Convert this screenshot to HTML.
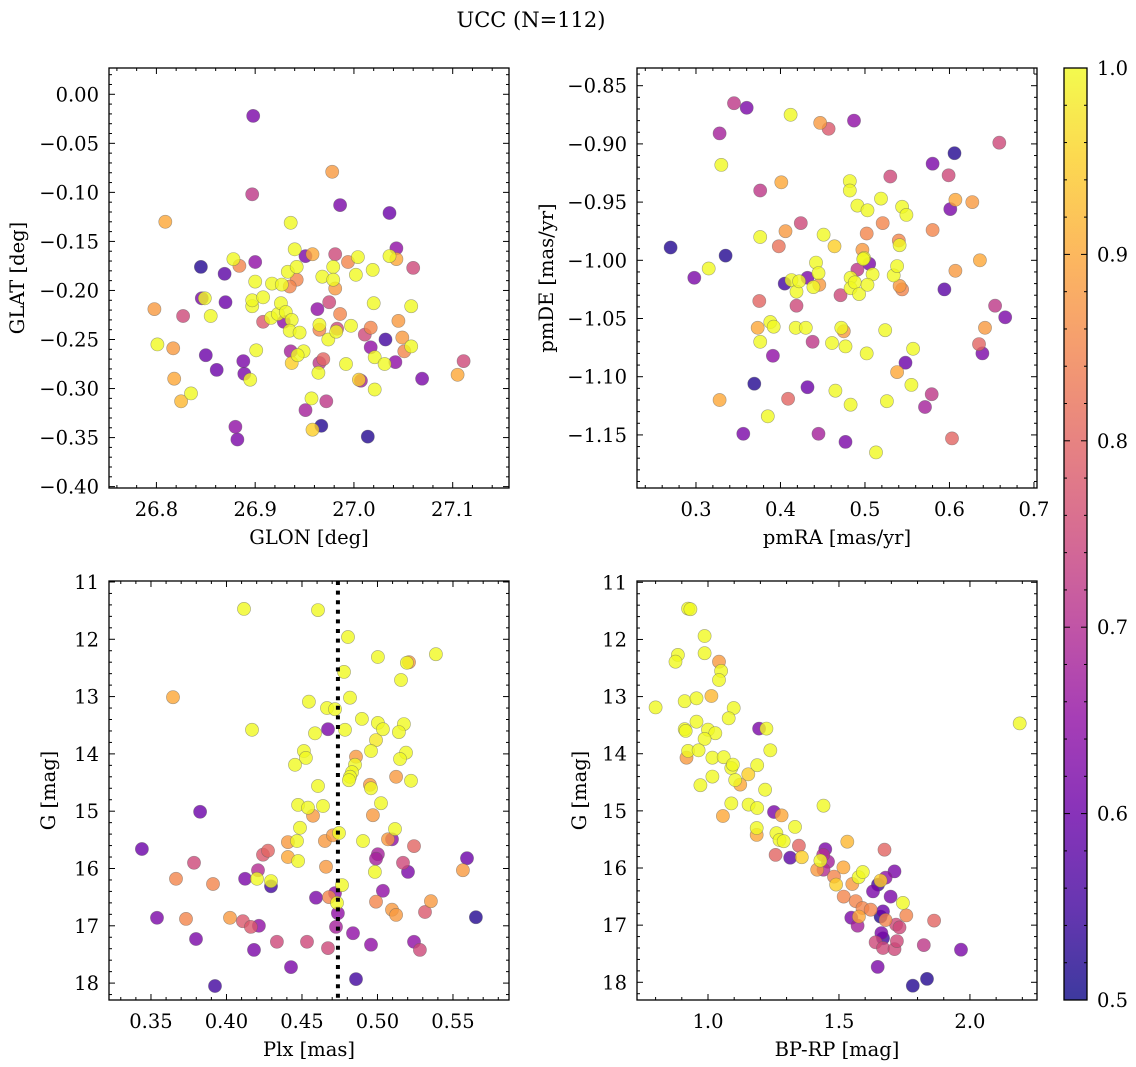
<!DOCTYPE html>
<html><head><meta charset="utf-8"><style>
html,body{margin:0;padding:0;background:#fff;}
svg{display:block;font-family:"DejaVu Serif","Liberation Serif",serif;}
</style></head><body>
<svg id="fig" width="1136" height="1067" viewBox="0 0 1136 1067" xmlns="http://www.w3.org/2000/svg">
<text x="531" y="27" font-size="21" text-anchor="middle">UCC (N=112)</text>
</svg>
<script>
// ---- Data (value arrays) ----
const glonGlat = [[26.898,-0.022,.62],[26.978,-0.079,.88],[26.897,-0.102,.72],[26.986,-0.113,.62],[27.036,-0.121,.6],[26.809,-0.130,.9],[26.936,-0.131,1],[26.940,-0.158,1],[27.043,-0.157,.65],[26.845,-0.176,.52],[26.878,-0.168,1],[26.884,-0.175,.85],[26.869,-0.183,.58],[26.900,-0.171,.65],[26.900,-0.191,1],[26.917,-0.193,1],[26.927,-0.194,1],[26.933,-0.181,1],[26.942,-0.176,1],[26.942,-0.189,.85],[26.935,-0.196,.85],[26.951,-0.165,.62],[26.958,-0.163,.9],[26.968,-0.186,1],[26.979,-0.176,1],[26.979,-0.189,1],[26.981,-0.198,.88],[26.981,-0.163,.75],[26.994,-0.171,.85],[27.004,-0.166,1],[27.002,-0.184,1],[27.019,-0.179,1],[27.036,-0.165,1],[27.043,-0.168,.9],[27.060,-0.177,.75],[26.798,-0.219,.88],[26.846,-0.208,.62],[26.849,-0.208,1],[26.870,-0.212,.6],[26.827,-0.226,.75],[26.855,-0.226,1],[26.897,-0.216,1],[26.897,-0.210,1],[26.908,-0.207,1],[26.908,-0.232,.78],[26.916,-0.228,1],[26.923,-0.224,1],[26.926,-0.213,1],[26.929,-0.232,.65],[26.931,-0.222,1],[26.937,-0.230,1],[26.935,-0.241,1],[26.945,-0.243,1],[26.963,-0.219,.65],[26.975,-0.212,.75],[26.965,-0.235,1],[26.965,-0.240,.85],[26.974,-0.250,1],[26.986,-0.224,.85],[26.983,-0.239,.75],[26.982,-0.242,1],[26.997,-0.236,1],[27.017,-0.238,.85],[27.020,-0.213,1],[27.011,-0.245,.75],[27.032,-0.250,.55],[27.045,-0.231,.88],[27.049,-0.248,.88],[27.058,-0.216,1],[27.058,-0.257,1],[27.051,-0.262,.85],[26.801,-0.255,1],[26.817,-0.259,.88],[26.850,-0.266,.6],[26.861,-0.281,.6],[26.888,-0.272,.62],[26.889,-0.285,.62],[26.895,-0.291,1],[26.901,-0.261,1],[26.936,-0.262,.68],[26.949,-0.262,1],[26.943,-0.266,1],[26.937,-0.274,.95],[26.965,-0.274,.72],[26.969,-0.270,.8],[26.964,-0.284,1],[26.992,-0.275,1],[27.017,-0.258,.65],[27.021,-0.268,1],[27.031,-0.275,1],[27.042,-0.273,.65],[27.005,-0.291,.95],[27.007,-0.292,.68],[27.021,-0.301,1],[27.069,-0.290,.62],[27.105,-0.286,.9],[27.111,-0.272,.75],[26.818,-0.290,.9],[26.825,-0.313,.92],[26.835,-0.305,1],[26.957,-0.310,1],[26.972,-0.313,.72],[26.951,-0.322,.68],[26.880,-0.339,.65],[26.882,-0.352,.62],[26.958,-0.342,.95],[26.967,-0.338,.52],[27.014,-0.349,.52]];

const pmraPmde = [[0.270,-0.989,.52],[0.298,-1.015,.62],[0.315,-1.007,1],[0.335,-0.996,.52],[0.328,-0.891,.68],[0.330,-0.918,1],[0.345,-0.865,.72],[0.360,-0.869,.62],[0.328,-1.120,.9],[0.356,-1.149,.62],[0.369,-1.106,.52],[0.376,-0.940,.72],[0.376,-0.980,1],[0.375,-1.035,.8],[0.373,-1.058,.9],[0.376,-1.070,1],[0.391,-1.082,.65],[0.388,-1.053,1],[0.392,-1.057,1],[0.385,-1.134,1],[0.398,-0.988,.82],[0.406,-0.975,.88],[0.401,-0.933,.9],[0.412,-0.875,1],[0.405,-1.020,.55],[0.413,-1.017,1],[0.419,-1.027,1],[0.422,-1.018,1],[0.419,-1.039,.75],[0.418,-1.058,1],[0.409,-1.119,.8],[0.424,-0.968,.75],[0.430,-1.058,1],[0.432,-1.015,.62],[0.432,-1.109,.6],[0.438,-1.070,.72],[0.439,-1.023,1],[0.442,-1.002,1],[0.445,-1.011,1],[0.446,-1.021,.88],[0.445,-1.149,.68],[0.447,-0.882,.88],[0.457,-0.887,.78],[0.451,-0.978,1],[0.464,-0.988,.95],[0.465,-1.112,1],[0.461,-1.071,1],[0.471,-1.030,.75],[0.472,-1.058,1],[0.475,-1.061,.88],[0.477,-1.074,1],[0.477,-1.156,.62],[0.482,-0.932,1],[0.482,-0.940,1],[0.483,-1.124,1],[0.487,-0.880,.65],[0.483,-1.015,1],[0.483,-1.024,1],[0.488,-1.019,1],[0.491,-1.008,.72],[0.493,-1.029,1],[0.491,-0.953,1],[0.497,-0.991,.88],[0.499,-0.998,1],[0.498,-0.999,1],[0.503,-0.957,1],[0.502,-0.977,.85],[0.505,-1.003,.62],[0.509,-1.012,1],[0.503,-1.021,1],[0.502,-1.080,1],[0.513,-1.165,1],[0.519,-0.947,1],[0.521,-0.968,.85],[0.524,-1.060,1],[0.526,-1.121,1],[0.530,-0.928,.75],[0.534,-1.013,1],[0.538,-1.005,1],[0.540,-0.983,.85],[0.541,-0.987,1],[0.541,-1.022,.88],[0.544,-1.025,.85],[0.544,-0.954,1],[0.549,-0.961,1],[0.538,-1.096,.9],[0.548,-1.088,.6],[0.555,-1.107,1],[0.557,-1.076,1],[0.571,-1.126,.68],[0.579,-1.115,.72],[0.580,-0.917,.62],[0.580,-0.974,.85],[0.594,-1.025,.58],[0.599,-0.927,.75],[0.601,-0.956,.62],[0.606,-0.908,.52],[0.607,-0.948,.9],[0.607,-1.009,.88],[0.603,-1.153,.8],[0.627,-0.950,.88],[0.636,-1.000,.9],[0.635,-1.072,.8],[0.639,-1.080,.62],[0.642,-1.058,.88],[0.654,-1.039,.72],[0.666,-1.049,.62],[0.659,-0.899,.75]];

const plxG = [[0.4116,11.47,1],[0.4606,11.49,1],[0.4805,11.96,1],[0.5003,12.31,1],[0.5209,12.40,.88],[0.5195,12.41,1],[0.5387,12.26,1],[0.4778,12.57,1],[0.5156,12.71,1],[0.3646,13.01,.9],[0.4818,13.02,1],[0.4546,13.09,1],[0.4666,13.20,1],[0.4719,13.22,1],[0.4897,13.39,1],[0.5003,13.46,1],[0.5175,13.48,1],[0.5036,13.57,1],[0.5142,13.62,1],[0.4169,13.58,1],[0.4586,13.64,1],[0.4672,13.57,.62],[0.4785,13.58,1],[0.4990,13.76,.98],[0.4513,13.95,1],[0.4526,14.07,1],[0.4454,14.19,1],[0.4957,13.95,1],[0.5189,13.98,1],[0.5149,14.09,1],[0.4858,14.05,.88],[0.4851,14.19,1],[0.4831,14.32,1],[0.4818,14.40,1],[0.5123,14.40,.88],[0.5222,14.47,1],[0.4606,14.56,1],[0.4950,14.54,.88],[0.4957,14.60,1],[0.4811,14.46,1],[0.4474,14.89,1],[0.4540,14.94,1],[0.4573,15.08,.88],[0.4639,14.91,1],[0.5023,14.86,1],[0.3825,15.01,.6],[0.4487,15.29,1],[0.4407,15.54,.88],[0.4467,15.52,1],[0.4652,15.52,.88],[0.4705,15.42,.88],[0.4745,15.38,1],[0.4904,15.52,1],[0.4970,15.07,.88],[0.5116,15.31,1],[0.5070,15.49,.88],[0.5096,15.49,.65],[0.5242,15.61,.8],[0.3440,15.66,.6],[0.3785,15.90,.75],[0.4275,15.69,.8],[0.4242,15.76,.78],[0.4407,15.80,.9],[0.4474,15.87,1],[0.4659,15.97,.88],[0.5003,15.75,.68],[0.4990,15.83,.68],[0.5169,15.90,.75],[0.5202,16.06,.62],[0.4983,16.06,1],[0.5593,15.82,.6],[0.5566,16.03,.88],[0.3666,16.18,.85],[0.3911,16.27,.85],[0.4123,16.18,.62],[0.4209,16.03,.7],[0.4202,16.18,1],[0.4295,16.31,.55],[0.4295,16.22,1],[0.4765,16.29,1],[0.4719,16.43,.65],[0.4679,16.50,.85],[0.4593,16.51,.62],[0.5036,16.39,.65],[0.4990,16.58,.85],[0.5096,16.72,.88],[0.5123,16.81,.88],[0.5354,16.57,.88],[0.5315,16.76,.78],[0.4732,16.60,1],[0.4738,16.78,.65],[0.5652,16.85,.52],[0.3540,16.86,.62],[0.3732,16.88,.85],[0.4023,16.86,.88],[0.4109,16.92,.78],[0.4162,17.02,.78],[0.4215,17.00,.65],[0.3798,17.23,.62],[0.4182,17.42,.62],[0.4334,17.28,.75],[0.4533,17.28,.75],[0.4672,17.39,.75],[0.4725,17.02,.68],[0.4838,17.13,.65],[0.4957,17.33,.65],[0.5242,17.28,.65],[0.5281,17.42,.75],[0.4427,17.72,.62],[0.4858,17.93,.55],[0.3924,18.05,.55]];

const bprpG = [[0.800,13.19,1],[0.924,11.46,1],[0.933,11.47,1],[0.987,11.94,1],[0.987,12.24,1],[0.885,12.27,1],[0.876,12.39,1],[1.042,12.39,.88],[1.050,12.55,1],[1.042,12.71,1],[1.013,12.99,.92],[0.911,13.08,1],[0.956,13.03,1],[1.098,13.20,1],[1.079,13.38,1],[0.956,13.44,1],[0.911,13.57,1],[0.915,13.60,1],[1.000,13.58,1],[1.028,13.64,1],[1.195,13.56,.62],[1.223,13.56,1],[2.190,13.47,1],[0.987,13.74,1],[0.924,13.95,1],[0.918,14.07,.88],[0.964,13.94,1],[1.017,14.07,1],[1.060,14.06,1],[1.238,13.94,1],[1.089,14.25,1],[1.095,14.19,1],[1.188,14.20,1],[1.104,14.46,1],[1.123,14.54,.9],[1.154,14.36,.95],[1.017,14.40,1],[0.971,14.55,1],[1.218,14.63,1],[1.089,14.87,1],[1.155,14.89,1],[1.188,14.95,1],[1.057,15.09,.9],[1.441,14.91,1],[1.252,15.02,.62],[1.281,15.08,.9],[1.186,15.30,1],[1.186,15.42,.9],[1.261,15.39,1],[1.273,15.51,1],[1.289,15.53,1],[1.332,15.28,1],[1.347,15.61,.8],[1.258,15.77,.8],[1.314,15.82,.58],[1.358,15.81,.95],[1.448,15.67,.62],[1.440,15.77,.7],[1.458,15.89,.68],[1.429,15.87,1],[1.417,16.03,.88],[1.441,16.03,.7],[1.481,16.15,.85],[1.489,16.29,.95],[1.517,15.99,.9],[1.532,15.54,.92],[1.551,16.28,.88],[1.575,16.16,1],[1.591,16.07,1],[1.518,16.50,.85],[1.564,16.58,.85],[1.590,16.70,.85],[1.621,16.73,.85],[1.547,16.87,.62],[1.576,16.85,.9],[1.571,17.01,.68],[1.630,16.41,.62],[1.649,16.29,.55],[1.659,16.22,.95],[1.678,16.17,.65],[1.674,15.68,.8],[1.712,16.06,.62],[1.697,16.50,.62],[1.744,16.61,1],[1.668,16.76,.6],[1.659,16.85,.52],[1.678,16.91,.85],[1.757,16.83,.85],[1.718,16.99,.75],[1.731,17.04,.75],[1.662,17.14,.62],[1.668,17.23,.55],[1.640,17.30,.75],[1.668,17.40,.75],[1.712,17.42,.75],[1.721,17.28,.75],[1.824,17.35,.72],[1.863,16.92,.8],[1.966,17.43,.62],[1.648,17.73,.62],[1.782,18.06,.52],[1.836,17.94,.52]];

const plxMedian = 0.4738;
const cbTicks = [0.5, 0.6, 0.7, 0.8, 0.9, 1.0];
const tlXTicks = [26.8, 26.9, 27.0, 27.1];
const tlYTicks = [0.00, -0.05, -0.10, -0.15, -0.20, -0.25, -0.30, -0.35, -0.40];
const trXTicks = [0.3, 0.4, 0.5, 0.6, 0.7];
const trYTicks = [-0.85, -0.90, -0.95, -1.00, -1.05, -1.10, -1.15];
const blXTicks = [0.35, 0.40, 0.45, 0.50, 0.55];
const gTicks = [11, 12, 13, 14, 15, 16, 17, 18];
const brXTicks = [1.0, 1.5, 2.0];

// ---- helpers ----
const NS = "http://www.w3.org/2000/svg";
const svg = document.getElementById('fig');
const FS = 19.5;
function mk(tag, attrs, parent) {
  const e = document.createElementNS(NS, tag);
  for (const k in attrs) e.setAttribute(k, attrs[k]);
  (parent || svg).appendChild(e);
  return e;
}
const stops = [[0,'#0d0887'],[0.1,'#41049d'],[0.2,'#6a00a8'],[0.3,'#8f0da4'],[0.4,'#b12a90'],[0.5,'#cc4778'],[0.6,'#e16462'],[0.7,'#f2844b'],[0.8,'#fca636'],[0.9,'#fcce25'],[1,'#f0f921']];
function hex(h){return [parseInt(h.substr(1,2),16),parseInt(h.substr(3,2),16),parseInt(h.substr(5,2),16)];}
function plasma(t) {
  t = Math.max(0, Math.min(1, t));
  for (let i = 1; i < stops.length; i++) {
    if (t <= stops[i][0]) {
      const a = hex(stops[i-1][1]), b = hex(stops[i][1]);
      const f = (t - stops[i-1][0]) / (stops[i][0] - stops[i-1][0]);
      return 'rgb(' + a.map((v, j) => Math.round(v + (b[j]-v)*f)).join(',') + ')';
    }
  }
  return stops[stops.length-1][1];
}
const vmin = 0.5, vmax = 1.0;
function fmt(v, d) { const s = Math.abs(v).toFixed(d); return (v < -1e-9 ? '\u2212' : '') + s; }

function panel(cfg) {
  const g = mk('g', {});
  
  
  const L = cfg.x0, R = cfg.x1, T = cfg.y0, B = cfg.y1;
  const sx = v => L + (v - cfg.xd[0]) / (cfg.xd[1] - cfg.xd[0]) * (R - L);
  const sy = v => B - (v - cfg.yd[0]) / (cfg.yd[1] - cfg.yd[0]) * (B - T);
  const clip = mk('clipPath', {id: cfg.name + '-clip'}, g);
  mk('rect', {x: L, y: T, width: R - L, height: B - T}, clip);
  const pts = mk('g', {'clip-path': 'url(#' + cfg.name + '-clip)'}, g);
  
  
  const sorted = cfg.data.slice().sort((a, b) => a[2] - b[2]);
  sorted.forEach(d => {
    const c = mk('circle', {cx: sx(d[0]).toFixed(1), cy: sy(d[1]).toFixed(1), r: 6.6,
      fill: plasma((d[2] - vmin) / (vmax - vmin)), 'fill-opacity': 0.8,
      stroke: '#606060', 'stroke-opacity': 0.55, 'stroke-width': 0.6}, pts);
    
    
  });
  if (cfg.vline !== undefined) {
    const ln = mk('line', {x1: sx(cfg.vline), x2: sx(cfg.vline), y1: T, y2: B, stroke: '#000', 'stroke-width': 4, 'stroke-dasharray': '4 5.6'}, g);
    
    
  }
  const tk = mk('g', {stroke: '#000', 'stroke-width': 1}, g);
  const xmin = Math.ceil(cfg.xd[0] / cfg.xm - 1e-6), xmaxI = Math.floor(cfg.xd[1] / cfg.xm + 1e-6);
  for (let i = xmin; i <= xmaxI; i++) {
    const v = i * cfg.xm, x = sx(v);
    const major = cfg.xt.some(t => Math.abs(t - v) < cfg.xm / 3);
    const len = major ? 6 : 3;
    mk('line', {x1: x, x2: x, y1: B, y2: B - len}, tk);
    mk('line', {x1: x, x2: x, y1: T, y2: T + len}, tk);
  }
  const ymin = Math.ceil(Math.min(cfg.yd[0], cfg.yd[1]) / cfg.ym - 1e-6), ymaxI = Math.floor(Math.max(cfg.yd[0], cfg.yd[1]) / cfg.ym + 1e-6);
  for (let i = ymin; i <= ymaxI; i++) {
    const v = i * cfg.ym, y = sy(v);
    const major = cfg.yt.some(t => Math.abs(t - v) < cfg.ym / 3);
    const len = major ? 6 : 3;
    mk('line', {x1: L, x2: L + len, y1: y, y2: y}, tk);
    mk('line', {x1: R, x2: R - len, y1: y, y2: y}, tk);
  }
  mk('rect', {x: L, y: T, width: R - L, height: B - T, fill: 'none', stroke: '#000', 'stroke-width': 1.3}, g);
  cfg.xt.forEach(v => {
    const t = mk('text', {x: sx(v), y: B + 28, 'font-size': FS, 'text-anchor': 'middle'}, g);
    t.textContent = fmt(v, cfg.xdec);
    
    
  });
  cfg.yt.forEach(v => {
    const t = mk('text', {x: L - 10, y: sy(v) + 7, 'font-size': FS, 'text-anchor': 'end'}, g);
    t.textContent = fmt(v, cfg.ydec);
    
    
  });
  const xl = mk('text', {x: (L + R) / 2, y: B + 56, 'font-size': FS, 'text-anchor': 'middle'}, g);
  xl.textContent = cfg.xlabel;
  
  
  const yl = mk('text', {x: 0, y: 0, 'font-size': FS, 'text-anchor': 'middle', transform: 'translate(' + cfg.ylx + ',' + (T + B) / 2 + ') rotate(-90)'}, g);
  yl.textContent = cfg.ylabel;
  
  
}

panel({name: 'glon-glat-panel', x0: 109, x1: 509, y0: 68, y1: 488, xd: [26.752, 27.157], yd: [-0.4014, 0.0268],
  xt: tlXTicks, yt: tlYTicks, xm: 0.02, ym: 0.01, xdec: 1, ydec: 2, data: glonGlat, xlabel: 'GLON [deg]', ylabel: 'GLAT [deg]', ylx: 24});
panel({name: 'pm-panel', x0: 637, x1: 1037, y0: 68, y1: 488, xd: [0.2302, 0.7036], yd: [-1.1956, -0.8348],
  xt: trXTicks, yt: trYTicks, xm: 0.02, ym: 0.01, xdec: 1, ydec: 2, data: pmraPmde, xlabel: 'pmRA [mas/yr]', ylabel: 'pmDE [mas/yr]', ylx: 553});
panel({name: 'plx-g-panel', x0: 109, x1: 509, y0: 581, y1: 1000, xd: [0.3222, 0.5871], yd: [18.295, 10.983],
  xt: blXTicks, yt: gTicks, xm: 0.01, ym: 0.2, xdec: 2, ydec: 0, data: plxG, xlabel: 'Plx [mas]', ylabel: 'G [mag]', ylx: 55, vline: plxMedian});
panel({name: 'cmd-panel', x0: 637, x1: 1037, y0: 581, y1: 1000, xd: [0.729, 2.256], yd: [18.31, 10.977],
  xt: brXTicks, yt: gTicks, xm: 0.1, ym: 0.2, xdec: 1, ydec: 0, data: bprpG, xlabel: 'BP-RP [mag]', ylabel: 'G [mag]', ylx: 586});

// ---- colorbar ----
(function () {
  const cb = mk('g', {});
  
  
  const L = 1064, R = 1087, T = 68, B = 1000;
  const defs = mk('defs', {}, cb);
  const lg = mk('linearGradient', {id: 'cbgrad', x1: 0, y1: 1, x2: 0, y2: 0}, defs);
  for (let i = 0; i <= 20; i++) mk('stop', {offset: i / 20, 'stop-color': plasma(i / 20), 'stop-opacity': 0.8}, lg);
  mk('rect', {x: L, y: T, width: R - L, height: B - T, fill: 'url(#cbgrad)'}, cb);
  const sy = v => B - (v - vmin) / (vmax - vmin) * (B - T);
  for (let i = 25; i <= 50; i++) {
    const v = i / 50, y = sy(v);
    const major = cbTicks.some(t => Math.abs(t - v) < 0.005);
    mk('line', {x1: R, x2: R - (major ? 6 : 3), y1: y, y2: y, stroke: '#000', 'stroke-width': 1}, cb);
    mk('line', {x1: L, x2: L + (major ? 6 : 3), y1: y, y2: y, stroke: '#000', 'stroke-width': 1}, cb);
  }
  mk('rect', {x: L, y: T, width: R - L, height: B - T, fill: 'none', stroke: '#000', 'stroke-width': 1.3}, cb);
  cbTicks.forEach(v => {
    const t = mk('text', {x: R + 10, y: sy(v) + 7, 'font-size': FS}, cb);
    t.textContent = v.toFixed(1);
    
    
  });
})();
</script>
</body></html>
